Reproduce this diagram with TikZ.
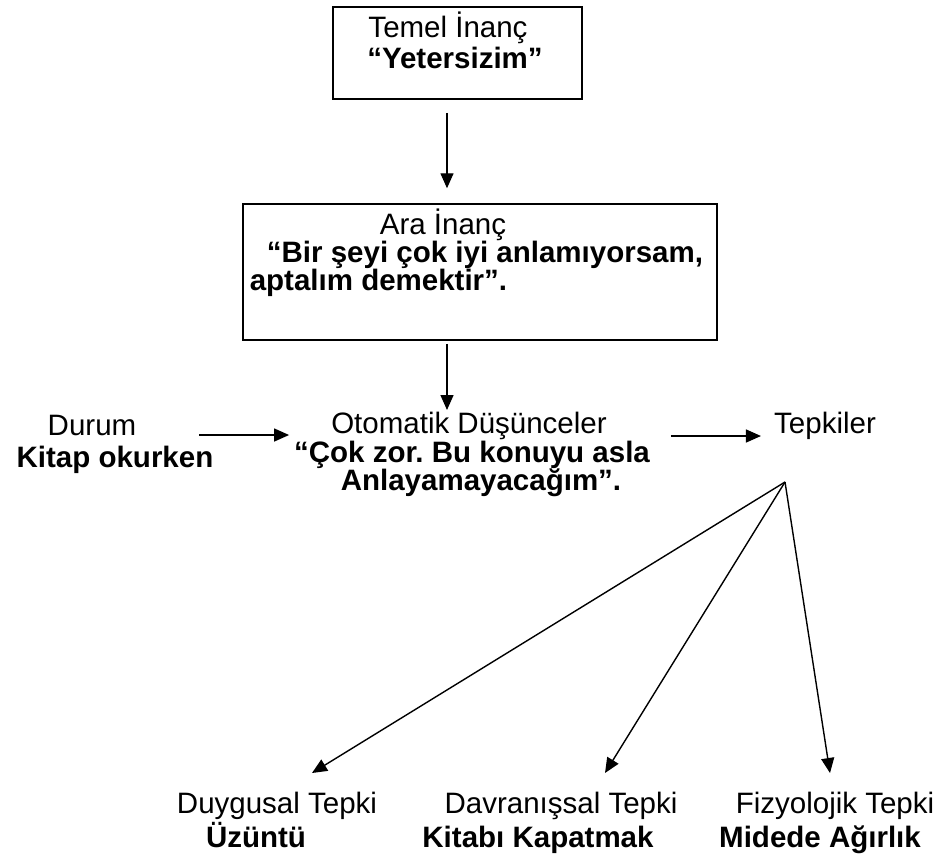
\documentclass[tikz,border=0pt]{standalone}
\usepackage{fontspec}
\setmainfont{Liberation Sans}
\usetikzlibrary{arrows.meta}
\frenchspacing

\begin{document}
\begin{tikzpicture}[x=1pt,y=-1pt,
    yazi/.style={inner sep=0pt,anchor=base,font=\fontsize{29.5}{34}\selectfont},
    kalin/.style={inner sep=0pt,anchor=base,font=\fontsize{29.5}{34}\selectfont\bfseries},
    kutu/.style={draw,line width=1.5pt,inner sep=0pt},
    ok/.style={line width=1.4pt,-{Triangle[length=15pt,width=13pt]}}]
    \useasboundingbox (0,0) rectangle (941,857);
    \node[kutu,minimum width=249pt,minimum height=92pt] (temel) at (457.5,53) {};
    \node[yazi] (temelT) at (448,37) {Temel İnanç};
    \node[kalin] (temelB) at (455,68) {“Yetersizim”};
    \node[kutu,minimum width=474pt,minimum height=136pt] (ara) at (480,272) {};
    \node[yazi] (araT) at (443,234) {Ara İnanç};
    \node[kalin] (araB1) at (485,262) {“Bir şeyi çok iyi anlamıyorsam,};
    \node[kalin] (araB2) at (378.5,290) {aptalım demektir”.};
    \node[yazi] (durumT) at (92,435) {Durum};
    \node[kalin] (durumB) at (115,467) {Kitap okurken};
    \node[yazi] (otoT) at (469,433) {Otomatik Düşünceler};
    \node[kalin] (otoB1) at (472,462) {“Çok zor. Bu konuyu asla};
    \node[kalin] (otoB2) at (481,490) {Anlayamayacağım”.};
    \node[yazi] (tepki) at (825,433) {Tepkiler};
    \coordinate (kol) at (785,482);
    \node[yazi] (duyT) at (277,813) {Duygusal Tepki};
    \node[kalin] (duyB) at (256,847) {Üzüntü};
    \node[yazi] (davT) at (561,813) {Davranışsal Tepki};
    \node[kalin] (davB) at (538,847) {Kitabı Kapatmak};
    \node[yazi] (fizT) at (835,813) {Fizyolojik Tepki};
    \node[kalin] (fizB) at (820,847) {Midede Ağırlık};
    \draw[ok] ([xshift=-10.5pt,yshift=-13pt]temel.south) -- ([xshift=-33pt,yshift=15pt]ara.north);
    \draw[ok] ([xshift=-33pt,yshift=-3pt]ara.south) -- ([xshift=-22pt,yshift=23pt]otoT.base);
    \draw[ok] ([xshift=63pt]durumT.base east) -- ([xshift=-42pt,yshift=-2pt]otoT.base west);
    \draw[ok] ([xshift=64pt,yshift=-3pt]otoT.base east) -- ([xshift=-13pt,yshift=-3pt]tepki.base west);
    \draw[ok] (kol) -- ([xshift=35pt,yshift=40pt]duyT.base);
    \draw[ok] (kol) -- ([xshift=44pt,yshift=40pt]davT.base);
    \draw[ok] (kol) -- ([xshift=-5pt,yshift=40pt]fizT.base);
\end{tikzpicture}
\end{document}
